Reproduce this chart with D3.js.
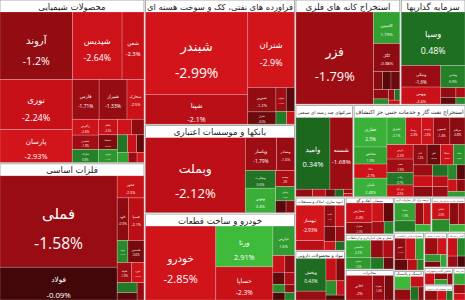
<!DOCTYPE html>
<html>
<head>
<meta charset="utf-8">
<script src="https://cdn.jsdelivr.net/npm/d3@7"></script>
<style>
  body { margin: 0; background: #fff; }
  svg { display: block; }
</style>
</head>
<body>
<div id="market-map"></div>
<script>
// sectors, in the order the map lays them out
const sectorNames = [
  "محصولات شیمیایی", "فلزات اساسی", "فراورده های نفتی، کک و سوخت هسته ای",
  "بانکها و موسسات اعتباری", "خودرو و ساخت قطعات", "استخراج کانه های فلزی",
  "سرمایه گذاریها", "شرکتهای چند رشته ای صنعتی", "استخراج نفت گاز و خدمات جنبی جز اکتشاف",
  "انبوه سازی، املاک و مستغلات", "مواد و محصولات دارویی", "سیمان، آهک و گچ",
  "حمل و نقل، انبارداری و ارتباطات", "مخابرات", "عرضه برق، گاز، بخاروآب گرم",
  "فعالیتهای کمکی به نهادهای مالی واسط", "محصولات غذایی و آشامیدنی", "لاستیک و پلاستیک",
  "بیمه و صندوق بازنشستگی", "کاشی و سرامیک", "ماشین آلات و تجهیزات",
  "سایر محصولات کانی غیرفلزی", "قند و شکر"
]
const sectorCaps = [23635, 19865, 18750, 13200, 13050, 11025, 6825, 5336, 10304,
  2666, 2480, 1800, 1700, 1500, 1300, 1200, 1150, 900, 800, 650, 500, 450, 414]

const stockNames = [
  ["آروند","شپدیس","شفن","نوری","پارسان","فارس","شیراز","شخارک","زاگرس","شغدیر","شاراک","شکلر","شسینا","شیران","شفارا","کرماشا","شگویا","شلعاب","شدوص","شکربن","شپاکسا","جم"],
  ["فملی","فولاد","فخوز","کاوه","فسپا","ذوب","فاسمین","فلوله","فنورد","فجر","فسرب","فرآور"],
  ["شبندر","شپنا","شتران","شبریز","شراز","شاوان","شنفت","شسپا","شبهرن"],
  ["وبملت","وپاسار","وبصادر","وتجارت","ونوین","وپست","وخاور","وسینا","وکار"],
  ["خودرو","ورنا","خساپا","خپارس","خگستر","خزامیا","خکمک","خمهر","خاور","خبهمن","خریخت","خچرخش"],
  ["فزر","کاسپین","کگل","کچاد","کنور","کدما","کمنگنز","کروی","کهمدا","کتهمن","کگهر"],
  ["وسپا","ونیکی","وبهمن","وغدیر","وصنا","وبوعلی","وتوکا","وسکاب"],
  ["وامید","شسته","وصنعت","وپویا","ورنیکی","وتوشه","وسنا","واتی"],
  ["حفاری","شاخص","دانا","ثامان","ثشرق","رمپنا","وتوسم","کیسون","مرقام","پارس","سپ","رتاپ","فن آوا","ثنام","افق","سمگا","حتاید","وآفر","توریل","رکیش","نیرو","دی","فرابورس","بورس","سیستم","پرداخت","آپ","رانفور"],
  ["ثبهساز","ثشاهد","ثاخت","ثامید","ثنوسا","وساخت","ثفارس","ثعمرا"],
  ["وپخش","دالبر","دجابر","دسبحا","دفارا","دلر","دتماد"],
  ["سفارس","ستران","سخزر","سشمال","سصفها","سفار"],
  ["حکشتی","حپترو","حتوکا","حفارس","حسینا","حآسا"],
  ["اخابر","همراه","های وب"],
  ["بمپنا","بکهنوج","بپیوند","بفجر","بجهرم"],
  ["اطلس","کارا","آتیمس","فیروزا","آساس"],
  ["غمینو","غبشهر","غکورش","غگرجی","غنوش","غپینو"],
  ["پکرمان","پتایر","پاکشو","پسهند","پلاسک"],
  ["البرز","بپاس","ومعلم","کوثر","ملت"],
  ["کسعدی","کساوه","کسرا","کپارس"],
  ["تاپکیش","تپمپی","لکما","تکشا"],
  ["کگاز","کفرا","کرازی"],
  ["قشکر","قثابت","قهکمت"]
]
const stockCaps = [
  [4964,3400,1500,3650,2400,1080,1120,680,420,380,340,300,280,250,220,200,180,160,130,110,90,70],
  [10856,3894,600,480,675,240,360,300,250,200,150,120],
  [8550,3090,3570,700,350,250,200,140,100],
  [7600,1056,594,540,750,306,275,125,100],
  [5225,2340,1900,640,200,160,140,120,100,90,80,70],
  [6536,756,675,150,136,144,128,70,60,50,40],
  [3432,858,675,540,150,100,90,60],
  [2409,1606,120,90,70,60,40,26],
  [900,520,430,560,476,390,300,420,380,350,330,300,280,260,250,240,220,200,190,180,160,150,140,120,110,100,90,80],
  [1500,400,350,300,250,200,150,120],
  [1300,350,300,250,200,150,120],
  [700,400,300,250,200,150],
  [600,400,300,250,200,150],
  [900,400,300],
  [500,300,250,200,150],
  [400,300,250,200,150],
  [350,300,250,200,150,100],
  [300,250,200,150,100],
  [300,200,150,120,100],
  [250,200,150,120],
  [200,150,120,100],
  [200,150,100],
  [180,140,100]
]
// daily change, percent
const stockChanges = [
  [-1.2,-2.64,-2.3,-2.24,-2.93,-1.71,-1.33,-2.5,-2.6,-1.9,0.9,-2.2,-0.7,1.4,-2.8,-1.1,0.6,-2.4,-0.4,1.8,-1.6,-2.9],
  [-1.58,-0.09,-2.3,-0.9,-2.1,1.1,-0.6,-1.8,-2.6,0.7,-0.3,-1.2],
  [-2.99,-2.1,-2.9,-1.2,-0.5,-1.8,-0.3,0.8,-2.4],
  [-2.12,-1.79,-1.6,0.6,2.4,-2.0,1.3,-0.3,-0.8],
  [-2.85,2.91,-2.3,1.6,-2.5,-1.0,-0.4,-2.0,1.2,-0.2,-1.4,0.9],
  [-1.79,1.79,-0.98,-0.8,-0.3,-0.5,-1.1,1.2,-1.5,0.6,-2.2],
  [0.48,-1.6,-2.4,0.9,-1.2,-0.4,-2.0,1.1],
  [0.34,-1.68,-1.2,-2.1,-0.6,0.4,-1.6,-2.4],
  [2.5,1.9,-2.7,2.48,2.1,-2.3,-2.6,-1.4,-0.8,-2.2,-1.9,0.7,-2.5,-1.2,-0.5,-2.8,1.3,-1.7,-2.4,-0.9,0.5,-2.1,-1.5,1.1,-0.3,-2.6,-1.0,1.6],
  [-2.93,-2.1,-1.0,-2.5,-0.6,-1.8,-2.7,0.5],
  [0.43,-1.5,-2.2,-0.7,1.3,-2.4,-0.3],
  [-2.4,-1.1,-2.6,-0.4,-1.9,1.0],
  [2.2,1.5,-1.3,-2.0,0.7,-0.5],
  [-2.0,-1.4,-0.6],
  [1.9,0.8,-1.6,-2.3,2.5],
  [-2.5,1.2,-0.9,-1.9,2.6],
  [-1.1,-2.6,1.7,-0.4,-2.1,0.9],
  [2.8,-1.3,-2.2,0.5,-0.8],
  [-1.8,-2.7,1.4,-0.6,2.0],
  [-2.2,1.0,-1.6,-0.2],
  [-2.4,-0.9,1.8,-1.5],
  [-1.2,-2.5,0.6],
  [2.2,-1.9,-2.8]
]

const width = 465, height = 300

const redScale = d3.scaleLinear()
  .domain([-3, -2.2, -1.9, -0.8, 0])
  .range(["#d3141b", "#c71018", "#a00d14", "#8a0b10", "#3a0708"])
  .clamp(true)
const greenScale = d3.scaleLinear()
  .domain([0, 0.5, 1.5, 3])
  .range(["#17561a", "#1f7022", "#2f9a30", "#40bd3c"])
  .clamp(true)
const color = v => v < 0 ? redScale(v) : greenScale(v)

// stocks are weighted inside their sector so the sector gets its own cap
const rootData = {
  name: "بازار",
  children: sectorNames.map((s, i) => {
    const total = d3.sum(stockCaps[i])
    return {
      name: s,
      children: stockNames[i].map((n, j) => ({
        name: n,
        cap: stockCaps[i][j] * sectorCaps[i] / total,
        change: stockChanges[i][j]
      }))
    }
  })
}

const root = d3.hierarchy(rootData).sum(d => d.cap || 0)

const tile = (node, x0, y0, x1, y1) => {
  const t = node.depth === 0 ? d3.treemapSquarify.ratio(1.2) : d3.treemapSquarify
  t(node, x0, y0, x1, y1)
}

d3.treemap()
  .size([width, height])
  .tile(tile)
  .paddingInner(d => d.depth === 0 ? 1.5 : 0)
  .paddingTop(d => d.depth === 1 ? Math.min(12, Math.max(5, (d.y1 - d.y0) * 0.14)) : 0)
  (root)

const svg = d3.select("#market-map")
  .append("svg")
  .attr("width", width)
  .attr("height", height)

svg.append("rect")
  .attr("width", width)
  .attr("height", height)
  .attr("fill", "#fff")

const sector = svg.append("g")
  .selectAll("g")
  .data(root.children)
  .join("g")

sector.append("rect")
  .attr("x", d => d.x0)
  .attr("y", d => d.y0)
  .attr("width", d => d.x1 - d.x0)
  .attr("height", d => d.y1 - d.y0)
  .attr("fill", "#fff")
  .attr("stroke", "#9a9a9a")
  .attr("stroke-width", 0.8)

const cell = svg.append("g")
  .selectAll("g")
  .data(root.leaves())
  .join("g")
  .attr("transform", d => `translate(${d.x0},${d.y0})`)

cell.append("rect")
  .attr("width", d => Math.max(0, d.x1 - d.x0))
  .attr("height", d => Math.max(0, d.y1 - d.y0))
  .attr("fill", d => color(d.data.change))
  .attr("stroke", "rgba(255,255,255,0.35)")
  .attr("stroke-width", 0.6)

// shrink a text until it fits the given width
function fit(sel, maxW) {
  sel.each(function() {
    const len = this.getComputedTextLength()
    if (len > maxW) {
      const fs = parseFloat(this.getAttribute("font-size"))
      this.setAttribute("font-size", fs * maxW / len)
    }
  })
}

cell.each(function(d) {
  const w = d.x1 - d.x0, h = d.y1 - d.y0
  const fs = Math.min(16, Math.sqrt(w * h) / 6.6, h / 4.2)
  if (fs < 2.3) return
  const g = d3.select(this)
  const name = g.append("text")
    .attr("x", w / 2)
    .attr("y", h / 2 - 0.5 * fs)
    .attr("text-anchor", "middle")
    .attr("dominant-baseline", "central")
    .attr("font-family", "'DejaVu Sans', sans-serif")
    .attr("font-size", fs * 0.95)
    .attr("fill", "#fff")
    .text(d.data.name)
  fit(name, w * 0.9)
  const pct = g.append("text")
    .attr("x", w / 2)
    .attr("y", h / 2 + 1.4 * fs)
    .attr("text-anchor", "middle")
    .attr("dominant-baseline", "central")
    .attr("font-family", "'Open Sans', sans-serif")
    .attr("font-size", fs)
    .attr("fill", "#fff")
    .text(d.data.change + "%")
  fit(pct, w * 0.9)
})

// sector titles sit on the white strip
sector.each(function(d) {
  const w = d.x1 - d.x0
  const hdr = Math.min(12, Math.max(5, (d.y1 - d.y0) * 0.14))
  const t = d3.select(this).append("text")
    .attr("x", (d.x0 + d.x1) / 2)
    .attr("y", d.y0 + hdr / 2 + 0.5)
    .attr("text-anchor", "middle")
    .attr("dominant-baseline", "central")
    .attr("font-family", "'DejaVu Sans', sans-serif")
    .attr("font-size", hdr * 0.72)
    .attr("fill", "#222")
    .text(d.data.name)
  fit(t, w - 3)
})
</script>
</body>
</html>
